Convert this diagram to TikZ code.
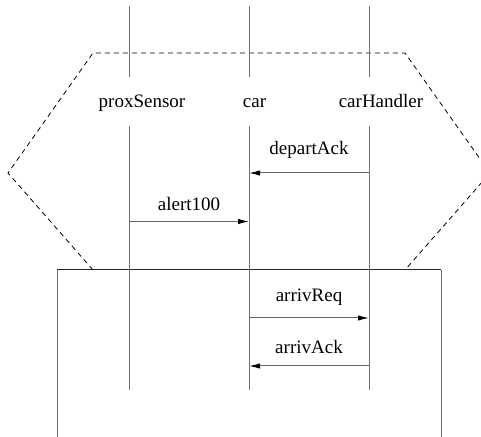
\documentclass[tikz,border=0pt]{standalone}
\usepackage{fontspec}
\setmainfont{Liberation Serif}
\usetikzlibrary{arrows.meta}

\begin{document}
\begin{tikzpicture}[
    x=0.5pt, y=-0.5pt,
    lifeline/.style={draw=black!55, line width=0.5pt},
    frame/.style={draw=black!55, line width=0.5pt},
    region/.style={draw=black, dash pattern=on 2.5pt off 2pt, line width=0.4pt},
    msg/.style={draw=black!60, line width=0.5pt, -{Latex[length=5.5pt, width=2.7pt, black]}},
    objname/.style={font=\fontsize{9.5}{11}\selectfont, inner sep=0pt, anchor=base},
    msglabel/.style={font=\fontsize{9.5}{11}\selectfont, inner sep=0pt, anchor=base},
]
\useasboundingbox (0,0) rectangle (481,437);
\clip (0,0) rectangle (481,437);

% Dashed region around the upper part
\draw[region] (93,270) -- (8,173) -- (93,53) -- (405,53) -- (490,173) -- (405,270);

% Solid frame (bottom runs off the page)
\draw[frame] (57,445) -- (57,270);
\draw[frame] (441,445) -- (441,270);
\draw[draw=black!85, line width=0.5pt] (57,270) -- (441,270);

% Lifelines with their names
\foreach \id/\x/\lx/\name in {ps/129/142/proxSensor, car/249/254.5/car, ch/369/381/carHandler}{
    \coordinate (\id-a) at (\x,6);
    \coordinate (\id-b) at (\x,77);
    \coordinate (\id-c) at (\x,126);
    \coordinate (\id-d) at (\x,390);
    \node[objname] (\id) at (\lx,108) {\name};
    \draw[lifeline] (\id-a) -- (\id-b);
    \draw[lifeline] (\id-c) -- (\id-d);
}

% Messages
\coordinate (m1) at (0,173);
\coordinate (m2) at (0,221.5);
\coordinate (m3) at (0,318);
\coordinate (m4) at (0,366);

\draw[msg] (ch-a |- m1) -- node[msglabel, yshift=9pt] {departAck} (car-a |- m1);
\draw[msg] (ps-a |- m2) -- node[msglabel, yshift=5.5pt] {alert100} (car-a |- m2);
\draw[msg] (car-a |- m3) -- node[msglabel, yshift=8pt] {arrivReq} (ch-a |- m3);
\draw[msg] (ch-a |- m4) -- node[msglabel, yshift=6.3pt] {arrivAck} (car-a |- m4);

\end{tikzpicture}
\end{document}
